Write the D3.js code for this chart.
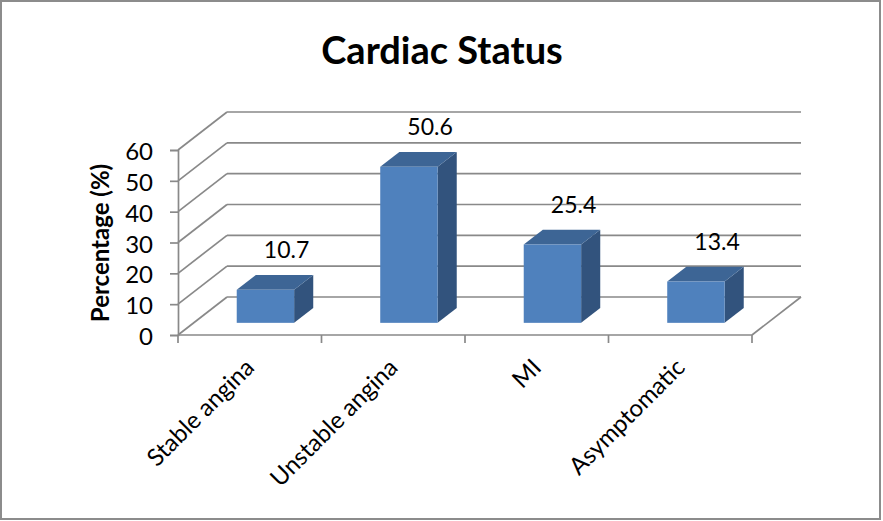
<!DOCTYPE html>
<html>
<head>
<meta charset="utf-8">
<script src="https://cdn.jsdelivr.net/npm/d3@7"></script>
<style>
  body { margin: 0; background: #fff; }
  text { font-family: Lato, "Open Sans", sans-serif; fill: #000; }
</style>
</head>
<body>
<svg id="chart" width="883" height="521"></svg>
<script>
// data
var categories = ['Stable angina', 'Unstable angina', 'MI', 'Asymptomatic'];
var values = [10.7, 50.6, 25.4, 13.4];
var yTicks = [0, 10, 20, 30, 40, 50, 60];

var svg = d3.select('#chart');

// frame
svg.append('rect')
  .attr('x', 1).attr('y', 1)
  .attr('width', 879).attr('height', 518)
  .attr('fill', '#fff')
  .attr('stroke', '#8c8c8c')
  .attr('stroke-width', 2);

// front plane scales
var x = d3.scaleBand().domain(categories).range([178, 752]).padding(0);
var y = d3.scaleLinear().domain([0, 60]).range([335, 150]);

// oblique depth offset for the full floor depth
var depthX = 49, depthY = -38;
var barFront = 0.32, barDepth = 0.39, barWidth = 0.4;
var gridColor = '#898989';

var x0 = x.range()[0], x1 = x.range()[1];

// back wall gridlines
svg.append('g').selectAll('line.back')
  .data(yTicks)
  .enter().append('line')
  .attr('x1', x0 + depthX).attr('x2', x1 + depthX)
  .attr('y1', function(d) { return y(d) + depthY; })
  .attr('y2', function(d) { return y(d) + depthY; })
  .attr('stroke', gridColor).attr('stroke-width', 1.7);

// side wall diagonals
svg.append('g').selectAll('line.side')
  .data(yTicks)
  .enter().append('line')
  .attr('x1', x0).attr('x2', x0 + depthX)
  .attr('y1', function(d) { return y(d); })
  .attr('y2', function(d) { return y(d) + depthY; })
  .attr('stroke', gridColor).attr('stroke-width', 1.7);

// floor right edge
svg.append('line')
  .attr('x1', x1).attr('y1', y(0))
  .attr('x2', x1 + depthX).attr('y2', y(0) + depthY)
  .attr('stroke', gridColor).attr('stroke-width', 1.7);

// y axis
var yAxis = svg.append('g')
  .attr('transform', 'translate(' + x0 + ',0)')
  .call(d3.axisLeft(y).tickValues(yTicks).tickSize(8).tickPadding(17));
yAxis.select('.domain').attr('stroke', gridColor).attr('stroke-width', 1.7);
yAxis.selectAll('.tick line').attr('stroke', gridColor).attr('stroke-width', 1.7);
yAxis.selectAll('.tick text')
  .attr('font-size', 24)
  .attr('font-family', 'Lato')
  .attr('dy', '0.4em')
  .attr('fill', '#000');

// x axis line and tick marks at category boundaries
var bounds = categories.map(function(c) { return x(c); }).concat([x1]);
svg.append('line')
  .attr('x1', x0).attr('x2', x1)
  .attr('y1', y(0)).attr('y2', y(0))
  .attr('stroke', gridColor).attr('stroke-width', 1.7);
svg.append('g').selectAll('line')
  .data(bounds)
  .enter().append('line')
  .attr('x1', function(d) { return d; }).attr('x2', function(d) { return d; })
  .attr('y1', y(0)).attr('y2', y(0) + 8)
  .attr('stroke', gridColor).attr('stroke-width', 1.7);

// bars
var bw = x.bandwidth() * barWidth;
var fx = depthX * barFront, fy = depthY * barFront;
var sx = depthX * barDepth, sy = depthY * barDepth;

var bars = svg.append('g').selectAll('g.bar')
  .data(values)
  .enter().append('g')
  .attr('class', 'bar');

function left(d, i) { return x(categories[i]) + x.bandwidth() / 2 - bw / 2 + fx; }

// right face
bars.append('path')
  .attr('d', function(d, i) {
    var l = left(d, i) + bw, t = y(d) + fy, b = y(0) + fy;
    return 'M' + l + ',' + t + 'L' + (l + sx) + ',' + (t + sy) +
      'L' + (l + sx) + ',' + (b + sy) + 'L' + l + ',' + b + 'Z';
  })
  .attr('fill', '#32537d');

// top face
bars.append('path')
  .attr('d', function(d, i) {
    var l = left(d, i), t = y(d) + fy;
    return 'M' + l + ',' + t + 'L' + (l + bw) + ',' + t +
      'L' + (l + bw + sx) + ',' + (t + sy) + 'L' + (l + sx) + ',' + (t + sy) + 'Z';
  })
  .attr('fill', '#3d6595');

// front face
bars.append('rect')
  .attr('x', left)
  .attr('y', function(d) { return y(d) + fy; })
  .attr('width', bw)
  .attr('height', function(d) { return y(0) - y(d); })
  .attr('fill', '#4f81bd');

// value labels above the back top edge
bars.append('text')
  .attr('x', function(d, i) { return left(d, i) + bw / 2 + sx + 2; })
  .attr('y', function(d) { return y(d) + fy + sy - 17; })
  .attr('text-anchor', 'middle')
  .attr('font-size', 23)
  .text(function(d) { return d; });

// category labels
svg.append('g').selectAll('text')
  .data(categories)
  .enter().append('text')
  .attr('transform', function(d) {
    return 'translate(' + (x(d) + x.bandwidth() / 2 + 6) + ',' + (y(0) + 34) + ') rotate(-45)';
  })
  .attr('text-anchor', 'end')
  .attr('font-size', 24)
  .text(function(d) { return d; });

// y axis title
svg.append('text')
  .attr('transform', 'translate(109,243) rotate(-90)')
  .attr('text-anchor', 'middle')
  .attr('font-size', 24)
  .attr('font-weight', 'bold')
  .text('Percentage (%)');

// chart title
svg.append('text')
  .attr('x', 442).attr('y', 64)
  .attr('text-anchor', 'middle')
  .attr('font-size', 38)
  .attr('font-weight', 'bold')
  .text('Cardiac Status');
</script>
</body>
</html>
